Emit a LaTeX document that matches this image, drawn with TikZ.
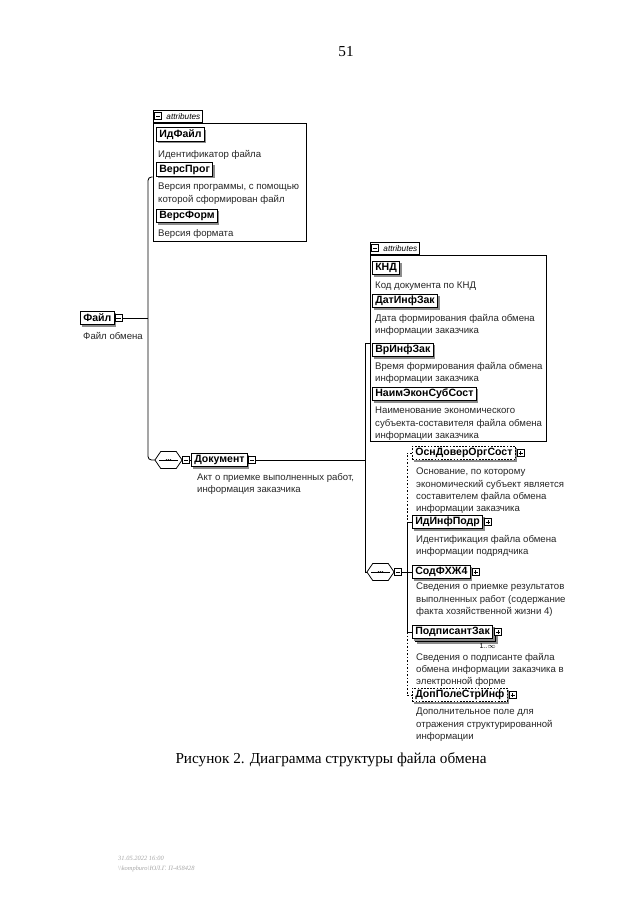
\documentclass[tikz,border=0pt]{standalone}
\usepackage{fontspec}
\setmainfont{Liberation Serif}
\newfontfamily\xsdfont{Liberation Sans}
\usetikzlibrary{positioning,calc,fit,shadows}

\begin{document}
\begin{tikzpicture}[
        x=0.03cm, y=-0.03cm,
        elem/.style={rectangle, draw=black, line width=0.65pt, fill=white, anchor=west,
                     font=\xsdfont\bfseries\fontsize{9}{10}\selectfont,
                     inner xsep=2.5pt, inner ysep=0pt, minimum height=0.4cm,
                     general shadow={fill=black!45, shadow xshift=1.6pt, shadow yshift=-1.6pt}},
        optelem/.style={elem, dash pattern=on 1.5pt off 1.2pt},
        descr/.style={anchor=north west, align=left, inner sep=0pt, text=black!85,
                      font=\xsdfont\fontsize{8.2}{10.4}\selectfont},
        pmbox/.style={rectangle, draw=black, line width=0.5pt, fill=white,
                      minimum size=0.21cm, inner sep=0pt, anchor=west},
        pmminus/.style={pmbox, path picture={\draw[line width=0.5pt]
                      ([xshift=1.2pt]path picture bounding box.west) -- ([xshift=-1.2pt]path picture bounding box.east);}},
        pmplus/.style={pmbox, path picture={\draw[line width=0.5pt]
                      ([xshift=1.2pt]path picture bounding box.west) -- ([xshift=-1.2pt]path picture bounding box.east)
                      ([yshift=1.2pt]path picture bounding box.south) -- ([yshift=-1.2pt]path picture bounding box.north);}},
        seqbox/.style={rectangle, minimum width=0.8cm, minimum height=0.5cm, inner sep=0pt},
        seqline/.style={draw=black, line width=0.65pt, fill=white, line join=round},
        link/.style={draw=black, line width=0.7pt},
        optlink/.style={link, dash pattern=on 1.5pt off 1.5pt},
        attrpanel/.style={rectangle, draw=black, line width=0.65pt, inner sep=0pt},
        attrtab/.style={rectangle, draw=black, line width=0.65pt, fill=white, anchor=south west,
                        inner xsep=1.5pt, inner ysep=0pt, minimum height=0.37cm,
                        font=\xsdfont\itshape\fontsize{7}{7}\selectfont},
        occ/.style={anchor=west, inner sep=0pt, font=\xsdfont\fontsize{6}{7}\selectfont},
        footer/.style={anchor=west, inner sep=0pt, text=black!35, font=\itshape\fontsize{5.5}{6.5}\selectfont}
    ]
        \useasboundingbox (0,0) rectangle (640,905);

        %--- page number ---
        \node[font=\fontsize{13}{15}\selectfont] (pagenum) at (346,52) {51};

        %--- root element ---
        \node[elem] (file) at (80,318) {Файл};
        \node[pmminus] (fileico) at (file.east) {};
        \node[descr] (filedsc) at (83,332) {Файл обмена};

        %--- attributes of Файл ---
        \node[attrpanel, fit={(153,123)(306,241)}] (fattr) {};
        \node[attrtab] (fattrtab) at (fattr.north west) {\hspace{10pt}attributes\hspace{5pt}};
        \node[pmminus] (fattrico) at ([xshift=1.5pt]fattrtab.west) {};

        \node[elem] (idfile) at (156,134.5) {ИдФайл};
        \node[descr] (idfiledsc) at (158,150) {Идентификатор файла};
        \node[elem] (versprog) at (156,169.5) {ВерсПрог};
        \node[descr] (versprogdsc) at (158,183) {Версия программы, с помощью\\которой сформирован файл};
        \node[elem] (versform) at (156,216) {ВерсФорм};
        \node[descr] (versformdsc) at (158,229) {Версия формата};

        %--- sequence compositors (hexagon, line and three dots) ---
        \node[seqbox] (seq1) at (168.5,460) {};
        \node[seqbox] (seq2) at (380.5,572) {};
        \foreach \s in {seq1,seq2} {
            \fill[black!45, shift={(1.5pt,-1.5pt)}] (\s.west) -- ([xshift=5pt]\s.north west) -- ([xshift=-5pt]\s.north east)
                -- (\s.east) -- ([xshift=-5pt]\s.south east) -- ([xshift=5pt]\s.south west) -- cycle;
            \path[seqline] (\s.west) -- ([xshift=5pt]\s.north west) -- ([xshift=-5pt]\s.north east)
                -- (\s.east) -- ([xshift=-5pt]\s.south east) -- ([xshift=5pt]\s.south west) -- cycle;
            \draw[line width=0.55pt] ([xshift=3.5pt]\s.west) -- ([xshift=-3.5pt]\s.east);
            \foreach \d in {-1.7,0,1.7}
                \fill ([xshift=\d pt]\s.center) circle (0.8pt);
        }
        \node[pmminus] (seq1ico) at (seq1.east) {};
        \node[pmminus] (seq2ico) at (seq2.east) {};

        \node[elem] (doc) at (191,460) {Документ};
        \node[pmminus] (docico) at (doc.east) {};
        \node[descr] (docdsc) at (197,473) {Акт о приемке выполненных работ,\\информация заказчика};

        %--- attributes of Документ ---
        \node[attrpanel, fit={(370,255)(546,441)}] (dattr) {};
        \node[attrtab] (dattrtab) at (dattr.north west) {\hspace{10pt}attributes\hspace{3pt}};
        \node[pmminus] (dattrico) at ([xshift=1.5pt]dattrtab.west) {};

        \node[elem] (knd) at (372,268) {КНД};
        \node[descr] (knddsc) at (375,282) {Код документа по КНД};
        \node[elem] (datinf) at (372,301) {ДатИнфЗак};
        \node[descr] (datinfdsc) at (375,314) {Дата формирования файла обмена\\информации заказчика};
        \node[elem] (vrinf) at (372,350) {ВрИнфЗак};
        \node[descr] (vrinfdsc) at (375,362) {Время формирования файла обмена\\информации заказчика};
        \node[elem] (naim) at (372,394) {НаимЭконСубСост};
        \node[descr] (naimdsc) at (375,407) {Наименование экономического\\субъекта-составителя файла обмена\\информации заказчика};

        %--- children of the second sequence ---
        \node[optelem] (osn) at (412,453) {ОснДоверОргСост};
        \node[pmplus] (osnico) at ([xshift=1pt]osn.east) {};
        \node[descr] (osndsc) at (416,468) {Основание, по которому\\экономический субъект является\\составителем файла обмена\\информации заказчика};

        \node[elem] (idpodr) at (412,522) {ИдИнфПодр};
        \node[pmplus] (idpodrico) at ([xshift=1pt]idpodr.east) {};
        \node[descr] (idpodrdsc) at (416,535) {Идентификация файла обмена\\информации подрядчика};

        \node[elem] (sodf) at (412,572) {СодФХЖ4};
        \node[pmplus] (sodfico) at ([xshift=1pt]sodf.east) {};
        \node[descr] (sodfdsc) at (416,583) {Сведения о приемке результатов\\выполненных работ (содержание\\факта хозяйственной жизни 4)};

        \node[elem] (podpback) at (415,635) {\phantom{ПодписантЗак}};
        \node[elem] (podp) at (412,632) {ПодписантЗак};
        \node[pmplus] (podpico) at ([xshift=1pt]podp.east) {};
        \node[occ, below=1.5pt of podpback.south east, anchor=north east] (podpocc) {1..$\infty$};
        \node[descr] (podpdsc) at (416,653) {Сведения о подписанте файла\\обмена информации заказчика в\\электронной форме};

        \node[optelem] (dop) at (412,695) {ДопПолеСтрИнф};
        \node[pmplus] (dopico) at ([xshift=1pt]dop.east) {};
        \node[descr] (dopdsc) at (416,708) {Дополнительное поле для\\отражения структурированной\\информации};

        %--- connectors ---
        \coordinate (fjoin) at (148,177);
        \draw[link, rounded corners=3pt] (fjoin -| fattr.west) -- (fjoin) |- (seq1.west);
        \draw[link] (fileico.east) -- (fileico.east -| fjoin);
        \draw[link] (seq1ico.east) -- (doc.west);

        \coordinate (djoin) at (365,343);
        \draw[link] (djoin -| dattr.west) -- (djoin) |- (seq2.west);
        \draw[link] (docico.east) -- (docico.east -| djoin);

        \coordinate (sjoin) at (407,572);
        \draw[link] (seq2ico.east) -- (sjoin);
        \draw[optlink] (osn.west) -| (sjoin |- idpodr.west);
        \draw[link] (idpodr.west) -| (sjoin |- podp.west) -- (podp.west);
        \draw[link] (sodf.west) -- (sodf.west -| sjoin);
        \draw[optlink] (sjoin |- podp.west) |- (dop.west);

        %--- caption and stamp ---
        \node[font=\fontsize{13}{15}\selectfont] (caption) at (331,760) {Рисунок 2. Диаграмма структуры файла обмена};
        \node[footer] (stamp1) at (118,858) {31.05.2022 16:00};
        \node[footer] (stamp2) at (118,869) {\textbackslash\textbackslash kompburo\textbackslash ЮЛ.Г. П-458428};
    \end{tikzpicture}
\end{document}
